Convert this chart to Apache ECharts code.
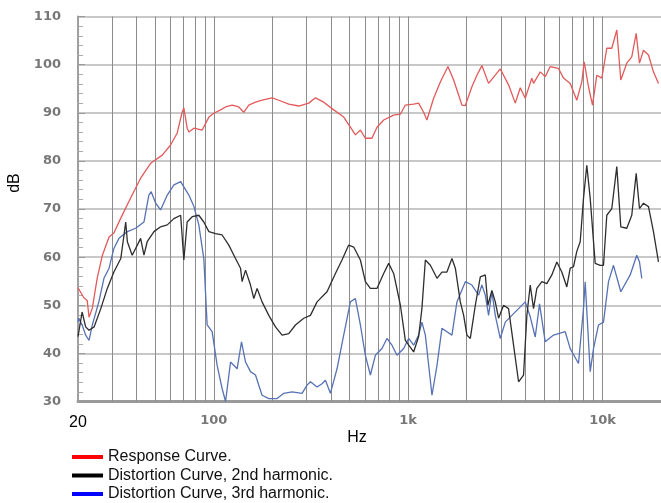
<!DOCTYPE html>
<html><head><meta charset="utf-8">
<script src="https://cdn.jsdelivr.net/npm/echarts@6/dist/echarts.min.js"></script>
<style>html,body{margin:0;padding:0;background:#fff}#c{width:661px;height:503px}</style>
</head><body><div id="c"></div>
<script>
const respHz=[20,21.5,22.3,22.8,23.7,25.1,26.7,28.9,30.6,33.2,37.3,42.0,47.3,54.3,59.9,64.8,68.7,70.1,72.9,74.4,79.0,80.5,87.1,94.3,100,108.3,114.9,124.2,134.4,142.6,151.3,163.8,177.1,199.4,215.9,243,273.5,307.9,333.3,367.7,413.9,465.9,504.3,535.1,567.7,602.3,651.3,691,748,842,912,967,1067,1132,1201,1249,1352,1464,1602,1714,1891,1969,2128,2258,2395,2593,2978,3286,3557,3774,4004,4329,4417,4782,5074,5383,5938,6301,6821,7375,7825,8050,8472,8884,9347,9918,10523,11164,11845,12421,13334,14146,14905,15500,16251,17243,18289,19411];
const respDb=[53.6,51.5,51,47.5,49.4,55.6,60.4,64.2,65,68.1,72.3,76.4,79.5,81.2,83.3,85.8,90.1,91,86.8,86,86.8,87,86.4,89.1,89.9,90.6,91.2,91.6,91.2,90.1,91.6,92.2,92.6,93.1,92.6,91.8,91.4,92.0,93.1,92.2,90.6,89.1,87,85.4,86.4,84.7,84.7,87,88.5,89.5,89.7,91.6,91.8,92,90.1,88.5,93,96.4,99.6,96.8,91.6,91.5,95.4,97.8,99.8,96.1,99.1,95.8,92,95.2,93,97.2,96.1,98.5,97.5,99.6,99.2,97.2,96.1,92.6,96.4,100.6,95.4,91.6,97.8,97.2,103.4,103.4,107.2,96.8,100.3,101.6,106.5,100.3,103,102,98.5,96.1];

const h2Hz=[20,21.0,21.9,22.8,24.2,26.2,28.3,30.6,33.2,34.5,35.2,35.9,38.0,40.4,42.0,43.7,45.4,49.2,53.2,57.6,62.3,67.5,70.1,72.9,77.4,83.7,88.8,94.3,102,110.3,119.4,129.3,137.2,139.8,145.6,154.4,160.6,167.0,177.1,191.8,207.6,224.5,243,263.0,290.2,314.1,339.7,382.4,422.3,456.6,494.3,524.5,567.7,602.3,639.1,691,748,793.7,842,912,967,1067,1132,1177,1226,1301,1407,1492,1583,1680,1749,1855,1930,2006,2088,2216,2351,2494,2572,2697,2807,2919,3097,3286,3486,3699,3924,4081,4248,4417,4593,4874,5171,5486,5821,6175,6552,6821,7092,7375,7678,7984,8303,8644,9171,9731,10119,10523,11164,11845,12421,13334,14146,14905,15500,16251,17243,18289,19411];
const h2Db=[43.5,48.6,45.5,44.8,45.5,49.3,53.5,56.9,59.7,64.6,67.3,63.2,60.4,62.5,63.9,60.4,63.2,65.3,66.3,66.7,68,68.7,59.4,67.3,68.4,68.7,67.3,65.3,64.9,64.6,62.5,59.7,57.7,54.9,57.3,54.2,51.4,53.5,50.7,47.9,45.5,43.8,44.1,45.9,47.3,47.9,50.7,52.8,56.6,59.4,62.5,62.1,59.4,54.9,53.5,53.5,56.6,58.7,56.6,50,42.7,40.3,43.5,49.3,59.4,58.3,55.6,56.9,56.9,59.7,57.7,50.7,47.9,43.8,43.1,50,55.9,56.3,50,53.1,50.7,47.3,50,49.3,41.7,34.1,35.5,47.9,54.2,49.3,53.5,54.9,54.5,56.3,59,56.9,53.8,57.7,58,61.2,63.2,72.2,79.1,72.2,58.7,58.3,58.3,68.7,70.1,78.8,66.3,66,68.7,77.4,70.1,71.2,70.5,65.3,59];

const h3Hz=[20,20.2,21.0,21.9,22.8,23.7,25.6,27.2,28.9,30.6,32.5,35.9,39.6,43.7,46.3,47.6,50.2,53.2,57.6,62.3,67.5,74.4,79.0,83.7,88.8,92.4,98.0,104.0,110.3,114.9,121.9,131.8,138.8,145.6,154.4,163.8,177.1,191.8,211.6,229,252.7,284.4,301.8,314.1,339.7,360.4,375.2,398,430.4,465.9,504.3,535.1,567.7,602.3,639.1,678,733.2,777.9,825.3,875.8,948,1006,1067,1132,1177,1226,1326,1407,1492,1583,1680,1782,1969,2128,2304,2395,2494,2593,2697,2807,2978,3160,3417,3699,4004,4248,4507,4742,5074,5597,6429,6821,7525,7984,8146,8644,8989,9537,10119,10736,11391,12421,13883,15012,15500,15928];
const h3Db=[46.5,47.3,45.9,43.8,42.7,45.9,50.7,55.6,57.7,61.8,63.9,65.3,66,67.3,72.9,73.6,71.2,69.8,72.9,75,75.7,72.9,70.5,66.7,59.7,45.9,44.5,37.5,32.7,30,38.2,36.8,42.4,38.2,36.2,35.5,31.3,30.6,30.6,31.7,32,31.7,33.4,34.1,33,33.7,34.4,31.7,36.8,43.8,50.7,51.4,45.9,39.6,35.5,39.6,41,43.1,41.7,39.6,41,43.1,41.7,43.8,46.5,43.8,31.3,37.5,45.2,44.5,43.8,50.7,54.9,54.2,52.1,54.2,52.1,47.9,52.8,47.9,43.1,46.5,47.9,49.3,50.7,47.6,43.4,50.3,42.4,43.8,44.5,41,37.9,49.3,54.9,36.2,41,45.9,46.5,54.9,58.3,52.8,56.3,60.4,59,55.6];

const vGridHz=[30,40,50,60,70,80,90,100,200,300,400,500,600,700,800,900,1000,2000,3000,4000,5000,6000,7000,8000,9000,10000];
const xTickLabels={20:'20',100:'100',1000:'1k',10000:'10k'};
const seriesNames=['Response Curve.','Distortion Curve, 2nd harmonic.','Distortion Curve, 3rd harmonic.'];
const lineColors=['#e25a5a','#2e2e2e','#5772b4'];
const legendColors=['#ff0000','#000000','#0000ff'];

const zip=(a,b)=>a.map((v,i)=>[v,b[i]]);
const chart=echarts.init(document.getElementById('c'),null,{renderer:'canvas'});
const curve=(i,hz,db)=>({name:seriesNames[i],type:'line',data:zip(hz,db),showSymbol:false,symbol:'none',
  lineStyle:{color:lineColors[i],width:1.3},itemStyle:{color:lineColors[i]},z:5,clip:true});
chart.setOption({
  animation:false,
  grid:{left:78,right:0,top:16.5,bottom:101.5},
  xAxis:{type:'log',logBase:10,min:20,max:20000,
    splitLine:{show:false},axisTick:{show:false},
    axisLine:{show:true,lineStyle:{color:'#9a9a9a',width:3}},
    axisLabel:{margin:13,showMaxLabel:false,
      formatter:v=>{const k=Math.round(v);const t=xTickLabels[k];if(!t)return '';return k===20?'{a|'+t+'}':'{b|'+t+'}';},
      rich:{a:{fontFamily:'Liberation Sans',fontSize:16,color:'#000'},
            b:{fontFamily:'DejaVu Sans',fontWeight:'bold',fontSize:13,color:'#777'}}}},
  yAxis:{type:'value',min:30,max:110,interval:10,
    axisLine:{show:true,lineStyle:{color:'#a0a0a0',width:2}},
    axisTick:{show:true,inside:true,length:7,lineStyle:{color:'#999'}},
    minorTick:{show:true,splitNumber:5,length:5,lineStyle:{color:'#aaa'}},
    splitLine:{show:true,lineStyle:{color:'#c8c8c8',width:2}},
    axisLabel:{margin:17,color:'#777',fontFamily:'DejaVu Sans',fontWeight:'bold',fontSize:13}},
  legend:{orient:'vertical',left:72,top:449,height:80,padding:0,itemWidth:31,itemHeight:4,itemGap:2.5,icon:'rect',
    textStyle:{fontFamily:'Liberation Sans',fontSize:16,lineHeight:16,color:'#111'},
    data:seriesNames.map((n,i)=>({name:n,itemStyle:{color:legendColors[i]}}))},
  graphic:[
    {type:'text',x:15,y:183,rotation:Math.PI/2,style:{text:'dB',font:'16px "Liberation Sans"',fill:'#000',align:'center',verticalAlign:'middle'}},
    {type:'text',x:357,y:438,style:{text:'Hz',font:'16px "Liberation Sans"',fill:'#000',align:'center',verticalAlign:'middle'}}
  ],
  series:[
    {name:'grid',type:'line',data:[],z:1,silent:true,
     markLine:{silent:true,symbol:['none','none'],label:{show:false},animation:false,
       lineStyle:{color:'#8c8c8c',width:1,type:'solid'},
       data:vGridHz.map(v=>({xAxis:v}))}},
    curve(2,h3Hz,h3Db),
    curve(1,h2Hz,h2Db),
    curve(0,respHz,respDb)
  ]
});
</script></body></html>
